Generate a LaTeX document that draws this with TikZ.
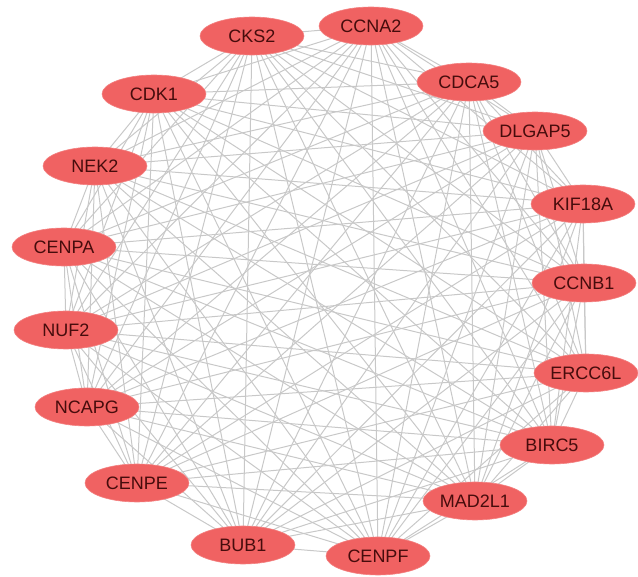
\documentclass[tikz,border=0pt]{standalone}
\usepackage{fontspec}
\setmainfont{Liberation Sans}
\usepackage{tikz}
\usetikzlibrary{shapes.geometric, backgrounds}
\definecolor{genered}{RGB}{240, 98, 98}
\definecolor{genetext}{RGB}{70, 12, 12}
\definecolor{edgegray}{RGB}{200, 200, 200}

\tikzset{
  gene/.style={ellipse, fill=genered, draw=genered!80!white, line width=0.6pt,
    minimum width=104pt, minimum height=38pt, inner sep=0pt,
    text=genetext, font=\fontsize{18}{18}\selectfont},
  ppi/.style={draw=edgegray, line width=1pt}
}
\newcommand{\genelist}{CKS2,CCNA2,CDCA5,DLGAP5,KIF18A,CCNB1,ERCC6L,BIRC5,MAD2L1,CENPF,BUB1,CENPE,NCAPG,NUF2,CENPA,NEK2,CDK1}

\begin{document}
\begin{tikzpicture}[x=1pt, y=-1pt]
  \useasboundingbox (0,0) rectangle (638,577);

  % genes
  \node[gene] (CKS2)   at (252,36)  {CKS2};
  \node[gene] (CCNA2)  at (371,26)  {CCNA2};
  \node[gene] (CDCA5)  at (469,82)  {CDCA5};
  \node[gene] (DLGAP5) at (535,131) {DLGAP5};
  \node[gene] (KIF18A) at (583,204) {KIF18A};
  \node[gene] (CCNB1)  at (584,283) {CCNB1};
  \node[gene] (ERCC6L) at (586,373) {ERCC6L};
  \node[gene] (BIRC5)  at (552,445) {BIRC5};
  \node[gene] (MAD2L1) at (475,501) {MAD2L1};
  \node[gene] (CENPF)  at (378,556) {CENPF};
  \node[gene] (BUB1)   at (243,545) {BUB1};
  \node[gene] (CENPE)  at (137,483) {CENPE};
  \node[gene] (NCAPG)  at (87,407)  {NCAPG};
  \node[gene] (NUF2)   at (66,330)  {NUF2};
  \node[gene] (CENPA)  at (64,247)  {CENPA};
  \node[gene] (NEK2)   at (95,166)  {NEK2};
  \node[gene] (CDK1)   at (154,94)  {CDK1};

  % interactions
  \begin{scope}[on background layer]
    \foreach \a [count=\i] in \genelist {
      \foreach \b [count=\j] in \genelist {
        \ifnum\i<\j \draw[ppi] (\a.center) -- (\b.center); \fi
      }
    }
  \end{scope}
\end{tikzpicture}
\end{document}
